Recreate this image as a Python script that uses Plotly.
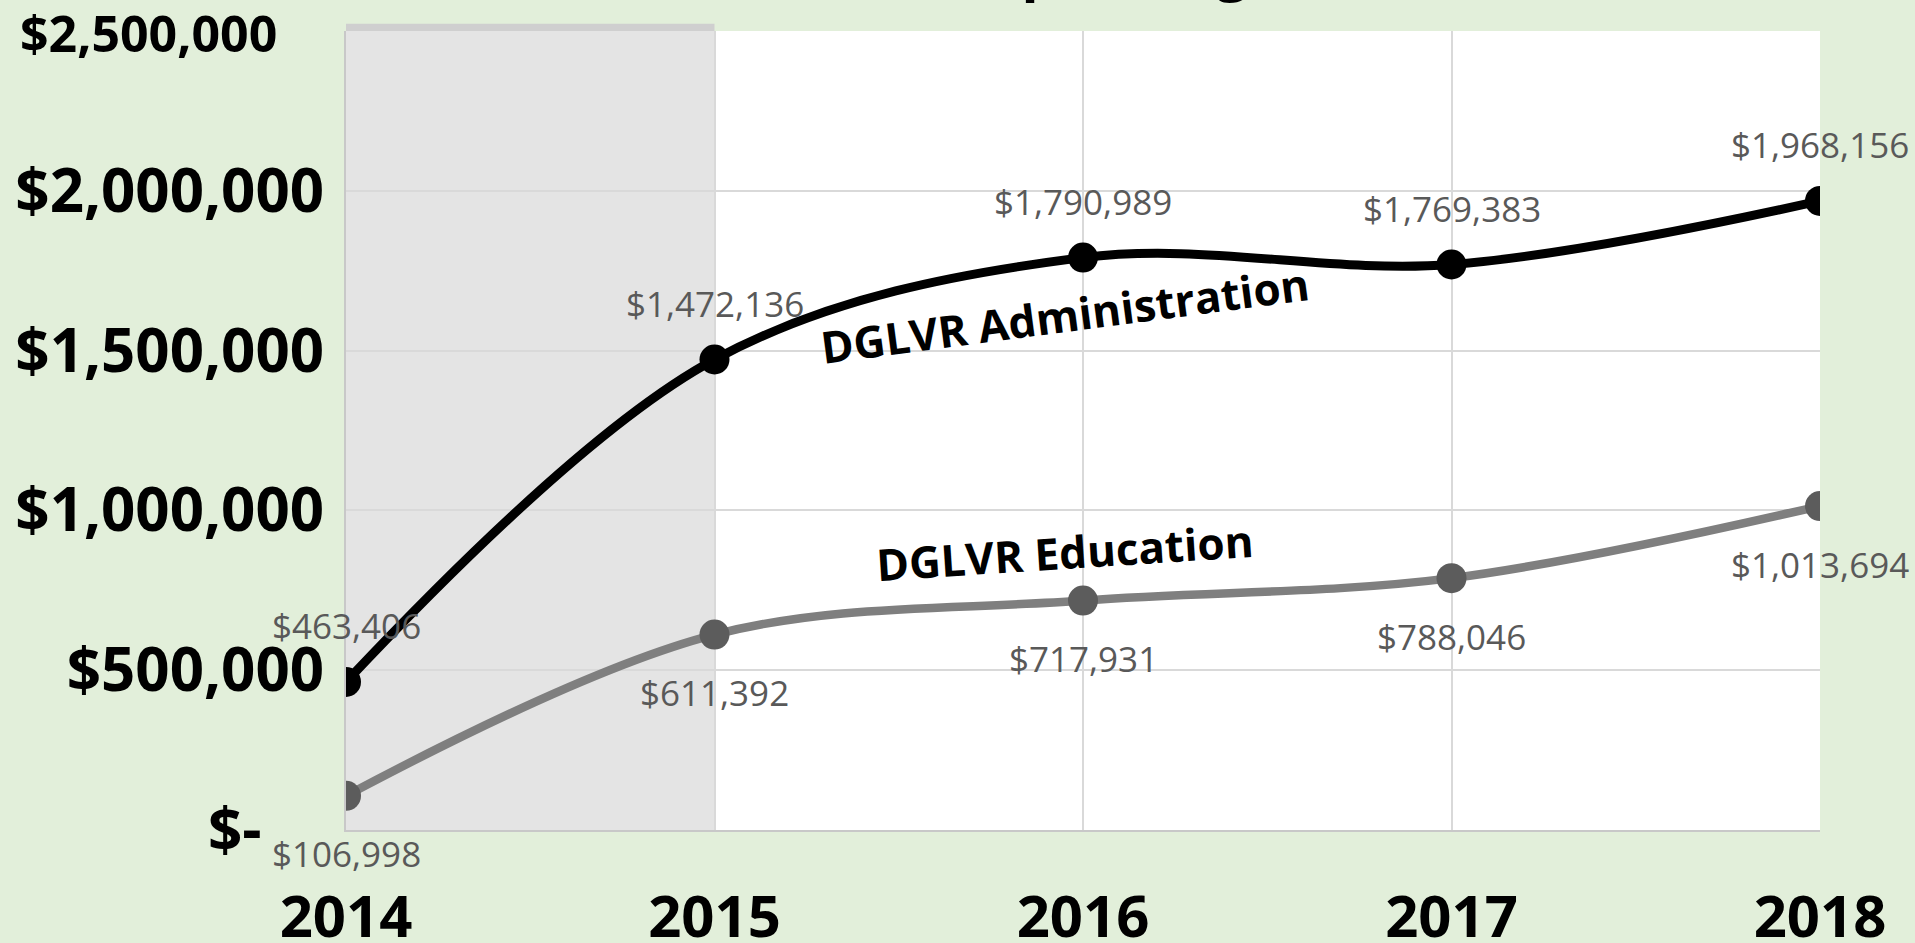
import plotly.graph_objects as go

years = [2014, 2015, 2016, 2017, 2018]
admin = [463406, 1472136, 1790989, 1769383, 1968156]
education = [106998, 611392, 717931, 788046, 1013694]
admin_labels = ["$463,406", "$1,472,136", "$1,790,989", "$1,769,383", "$1,968,156"]
edu_labels = ["$106,998", "$611,392", "$717,931", "$788,046", "$1,013,694"]
y_ticks = [0, 500000, 1000000, 1500000, 2000000, 2500000]
NB = "\u00a0"
y_ticktext = ["$-" + NB * 4, "$500,000", "$1,000,000", "$1,500,000", "$2,000,000",
              '<span style="font-size:50px">$2,500,000</span>' + NB * 3]
x_ticktext = ["2014", "2015", "2016", "2017", "2018"]

FONT = "Open Sans"
fig = go.Figure()

fig.add_trace(go.Scatter(
    x=years, y=education, mode="lines+markers", name="DGLVR Education",
    line=dict(color="#7f7f7f", width=8.5, shape="spline", smoothing=1.0),
    marker=dict(color="#5c5c5c", size=30),
    hoverinfo="skip",
))
fig.add_trace(go.Scatter(
    x=years, y=admin, mode="lines+markers", name="DGLVR Administration",
    line=dict(color="#000000", width=9, shape="spline", smoothing=1.0),
    marker=dict(color="#000000", size=30),
    hoverinfo="skip",
))

annotations = []
for x, y, t in zip(years, admin, admin_labels):
    annotations.append(dict(x=x, y=y, text=t, showarrow=False, yshift=56,
                            font=dict(family=FONT, size=35, color="#595959")))
for x, y, t in zip(years, education, edu_labels):
    annotations.append(dict(x=x, y=y, text=t, showarrow=False, yshift=-58,
                            font=dict(family=FONT, size=35, color="#595959")))

annotations.append(dict(x=2015.95, y=1610000, text="<b>DGLVR Administration</b>", showarrow=False,
                        textangle=-7.5, xanchor="center", yanchor="middle",
                        font=dict(family=FONT, size=44, color="#000000")))
annotations.append(dict(x=2015.95, y=870000, text="<b>DGLVR Education</b>", showarrow=False,
                        textangle=-3.7, xanchor="center", yanchor="middle",
                        font=dict(family=FONT, size=44, color="#000000")))
# Title (cropped at top of the image)
annotations.append(dict(xref="paper", yref="paper", x=0.613, y=1.0290, xanchor="right", yanchor="bottom",
                        text="<b>Admin and Education Spending</b>", showarrow=False,
                        font=dict(family=FONT, size=56, color="#000000")))

shapes = [
    dict(type="rect", xref="x", yref="paper", x0=years[0], x1=years[1], y0=0, y1=1,
         fillcolor="rgba(0,0,0,0.105)", line=dict(width=0), layer="between"),
    dict(type="rect", xref="x", yref="paper", x0=years[0], x1=years[1], y0=1, y1=1.009,
         fillcolor="#cfcfcf", line=dict(width=0), layer="between"),
]

fig.update_layout(
    width=1915, height=943,
    paper_bgcolor="#e2efda", plot_bgcolor="#ffffff",
    margin=dict(l=346, r=95, t=31, b=113, autoexpand=False),
    showlegend=False,
    annotations=annotations,
    shapes=shapes,
    xaxis=dict(range=[2014, 2018], tickmode="array", tickvals=years, ticktext=x_ticktext,
               showgrid=True, gridcolor="#d9d9d9", gridwidth=2, zeroline=False,
               showline=True, linecolor="#c8c8c8", linewidth=2, automargin=False,
               ticks="", ticklabelstandoff=35, ticklabeloverflow="allow",
               tickfont=dict(family=FONT, size=58, color="#000000", weight="bold")),
    yaxis=dict(range=[0, 2500000], tickmode="array", tickvals=y_ticks, ticktext=y_ticktext,
               showgrid=True, gridcolor="#d9d9d9", gridwidth=2, zeroline=False,
               showline=True, linecolor="#c8c8c8", linewidth=2, automargin=False,
               ticks="", ticklabelstandoff=8, ticklabeloverflow="allow",
               tickfont=dict(family=FONT, size=60, color="#000000", weight="bold")),
)

fig.write_html("out.html", config={"displayModeBar": False},
               post_script="document.body.style.margin='0';document.body.style.overflow='hidden';")
